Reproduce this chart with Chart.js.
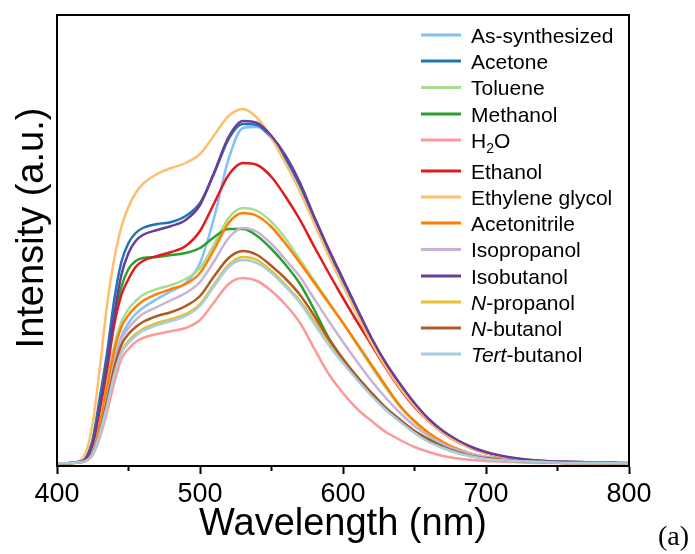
<!DOCTYPE html>
<html>
<head>
<meta charset="utf-8">
<script src="https://cdn.jsdelivr.net/npm/chart.js@4.4.1/dist/chart.umd.min.js"></script>
<style>
  html, body { margin: 0; padding: 0; background: #fff; }
  #wrap { width: 695px; height: 554px; }
</style>
</head>
<body>
<div id="wrap"><canvas id="chart" width="695" height="554"></canvas></div>
<script>
// Spectres (unités arbitraires)
const wavelengths = [400, 410, 415, 420, 425, 430, 435, 440, 445, 450, 455, 460, 470, 480, 490, 500, 510, 520, 530, 540, 550, 560, 570, 580, 590, 600, 610, 620, 630, 640, 650, 660, 670, 680, 690, 700, 720, 740, 760, 780, 800];

const asSynthesized = [1.5, 2, 3, 5, 14, 38, 70, 104, 128, 142, 151, 157, 166, 174, 182, 202, 248, 306, 337, 338, 327, 306, 279, 246, 214, 184, 154, 125, 100, 79, 61, 45, 33, 24, 17, 12, 6.5, 4, 3, 2.5, 1.5];
const acetone = [1.5, 2, 3, 7, 26, 68, 112, 165, 203, 222, 232, 237, 241, 243, 249, 262, 292, 326, 341, 340, 327, 306, 279, 245, 213, 183, 153, 124, 99, 78, 60, 44, 33, 24, 17, 12, 6.5, 4, 3, 2.5, 1.5];
const toluene = [1.5, 2, 3, 5, 16, 44, 82, 119, 143, 156, 164, 170, 176, 180, 186, 197, 221, 247, 257, 254, 243, 226, 205, 184, 163, 142, 120, 98, 77, 58, 43, 31, 22, 16, 11, 8, 5, 3, 2.5, 2, 1.5];
const methanol = [1.5, 2, 3, 6, 23, 62, 102, 146, 178, 196, 204, 207, 208, 210, 212, 217, 228, 236, 236, 229, 216, 200, 181, 155, 127, 106, 88, 72, 57, 45, 34, 26, 19, 14, 10, 7, 4, 3, 2, 2, 1.5];
const water = [1.5, 2, 2.5, 4, 10, 28, 53, 82, 106, 116, 123, 127, 131, 134, 137, 145, 163, 181, 187, 184, 174, 160, 142, 116, 91, 72, 56, 44, 33, 25, 18, 13, 9, 6.5, 5, 4, 3, 2, 2, 1.5, 1.5];
const ethanol = [1.5, 2, 3, 5, 20, 56, 95, 140, 170, 186, 198, 204, 209, 213, 219, 234, 262, 290, 302, 300, 288, 268, 245, 218, 192, 167, 143, 120, 97, 76, 58, 44, 32, 23, 17, 12, 6, 4, 3, 2.5, 1.5];
const ethyleneGlycol = [1.5, 2, 3.5, 12, 42, 98, 160, 206, 238, 258, 272, 281, 291, 297, 302, 311, 330, 349, 356, 347, 327, 301, 273, 241, 209, 179, 150, 122, 98, 77, 59, 44, 32, 23, 17, 12, 6.5, 4, 3, 2.5, 1.5];
const acetonitrile = [1.5, 2, 3, 5, 15, 41, 78, 114, 138, 150, 158, 164, 171, 176, 181, 192, 216, 242, 252, 249, 238, 221, 202, 182, 162, 142, 121, 100, 79, 59, 44, 32, 23, 16, 11, 8, 5, 3, 2.5, 2, 1.5];
const isopropanol = [1.5, 2, 3, 5, 13, 35, 66, 100, 125, 137, 145, 151, 158, 165, 172, 183, 204, 227, 237, 233, 221, 205, 188, 166, 144, 123, 103, 84, 67, 52, 39, 29, 21, 15, 11, 8, 5, 3, 2.5, 2, 1.5];
const isobutanol = [1.5, 2, 3, 6, 22, 60, 102, 150, 190, 212, 224, 230, 235, 239, 245, 260, 293, 328, 344, 342, 329, 309, 282, 248, 216, 186, 156, 127, 102, 81, 62, 46, 34, 25, 18, 13, 7, 4, 3, 2.5, 2];
const nPropanol = [1.5, 2, 2.5, 4, 11, 32, 60, 92, 114, 124, 131, 136, 142, 146, 151, 161, 181, 200, 208, 205, 194, 180, 164, 144, 122, 104, 86, 70, 56, 44, 33, 24, 17, 12, 9, 6, 4, 3, 2, 2, 1.5];
const nButanol = [1.5, 2, 2.5, 4, 12, 34, 64, 97, 120, 131, 138, 143, 149, 153, 159, 169, 189, 207, 214, 210, 199, 186, 170, 149, 126, 106, 88, 72, 57, 45, 34, 25, 18, 13, 9, 7, 4, 3, 2, 2, 1.5];
const tertButanol = [1.5, 2, 2.5, 4, 11, 32, 59, 90, 112, 122, 129, 134, 140, 144, 149, 159, 179, 198, 205, 202, 192, 178, 162, 141, 120, 102, 85, 69, 55, 43, 32, 23, 17, 12, 8.5, 6, 4, 3, 2, 2, 1.5];

const xTicks = [400, 500, 600, 700, 800];
const minorTicks = [450, 550, 650, 750];

// Légende : morceaux de texte (i = italique, sub = indice)
const legendLabels = [
  [{ t: "As-synthesized" }],
  [{ t: "Acetone" }],
  [{ t: "Toluene" }],
  [{ t: "Methanol" }],
  [{ t: "H" }, { t: "2", sub: true }, { t: "O" }],
  [{ t: "Ethanol" }],
  [{ t: "Ethylene glycol" }],
  [{ t: "Acetonitrile" }],
  [{ t: "Isopropanol" }],
  [{ t: "Isobutanol" }],
  [{ t: "N", i: true }, { t: "-propanol" }],
  [{ t: "N", i: true }, { t: "-butanol" }],
  [{ t: "Tert", i: true }, { t: "-butanol" }]
];

const series = [asSynthesized, acetone, toluene, methanol, water, ethanol, ethyleneGlycol, acetonitrile, isopropanol, isobutanol, nPropanol, nButanol, tertButanol];
const colors = ["#82c0f7", "#1f74b4", "#a8dc90", "#2ca02c", "#fb9a99", "#e31a1c", "#fdbf6f", "#ff7f00", "#cab2d6", "#6a3d9a", "#e6c02e", "#b15928", "#a6cee3"];

const FONT = "'Liberation Sans', Arial, sans-serif";
const legendRows = [35, 61, 87.5, 114, 140, 171, 197, 223, 249.5, 276, 302, 328, 354];

const legendPlugin = {
  id: "richLegend",
  afterDraw(chart) {
    const { ctx } = chart;
    ctx.save();
    legendLabels.forEach((parts, i) => {
      const y = legendRows[i];
      ctx.strokeStyle = colors[i];
      ctx.lineWidth = 3;
      ctx.beginPath();
      ctx.moveTo(421, y);
      ctx.lineTo(461, y);
      ctx.stroke();

      let x = 471;
      ctx.fillStyle = "#000";
      ctx.textBaseline = "alphabetic";
      ctx.textAlign = "left";
      parts.forEach((p) => {
        const size = p.sub ? 14 : 21;
        ctx.font = `${p.i ? "italic " : ""}${size}px ${FONT}`;
        ctx.fillText(p.t, x, y + 7.5 + (p.sub ? 5 : 0));
        x += ctx.measureText(p.t).width;
      });
    });
    ctx.restore();
  }
};

const framePlugin = {
  id: "frame",
  afterDatasetsDraw(chart) {
    const { ctx, chartArea: a, scales } = chart;
    ctx.save();
    ctx.strokeStyle = "#000";
    ctx.lineWidth = 2;
    ctx.strokeRect(a.left, a.top, a.right - a.left, a.bottom - a.top);
    ctx.beginPath();
    minorTicks.forEach((v) => {
      const px = scales.x.getPixelForValue(v);
      ctx.moveTo(px, a.bottom);
      ctx.lineTo(px, a.bottom + 5);
    });
    ctx.stroke();
    ctx.restore();
  },
  afterDraw(chart) {
    const { ctx } = chart;
    ctx.save();
    ctx.fillStyle = "#000";
    ctx.font = `38px ${FONT}`;
    ctx.textAlign = "center";
    ctx.textBaseline = "middle";
    ctx.translate(33, 228);
    ctx.rotate(-Math.PI / 2);
    ctx.fillText("Intensity (a.u.)", 0, 0);
    ctx.restore();

    ctx.save();
    ctx.fillStyle = "#000";
    ctx.font = "28px 'Liberation Serif', 'Times New Roman', serif";
    ctx.textAlign = "left";
    ctx.textBaseline = "alphabetic";
    ctx.fillText("(a)", 658, 545);
    ctx.restore();
  }
};

new Chart(document.getElementById("chart"), {
  type: "line",
  data: {
    datasets: series.map((values, i) => ({
      label: legendLabels[i].map((p) => p.t).join(""),
      data: wavelengths.map((w, k) => ({ x: w, y: values[k] })),
      borderColor: colors[i],
      borderWidth: 2.5,
      pointRadius: 0,
      cubicInterpolationMode: "monotone",
      fill: false,
      order: -i
    }))
  },
  options: {
    responsive: false,
    animation: false,
    devicePixelRatio: 1,
    layout: { padding: { top: 15, right: 66, bottom: 0, left: 0 } },
    plugins: {
      legend: { display: false },
      tooltip: { enabled: false }
    },
    scales: {
      x: {
        type: "linear",
        min: 400,
        max: 800,
        afterBuildTicks: (scale) => {
          scale.ticks = xTicks.map((v) => ({ value: v }));
        },
        ticks: {
          color: "#000",
          font: { family: FONT, size: 27 },
          padding: 4,
          maxRotation: 0
        },
        grid: {
          display: true,
          drawOnChartArea: false,
          drawTicks: true,
          tickLength: 8,
          tickWidth: 2,
          tickColor: "#000"
        },
        border: { display: true, color: "#000", width: 2 },
        title: {
          display: true,
          text: "Wavelength (nm)",
          color: "#000",
          font: { family: FONT, size: 38 },
          padding: { top: 0, bottom: 7 }
        },
        afterFit: (scale) => {
          scale.height = 88;
        }
      },
      y: {
        min: -1,
        max: 450,
        ticks: { display: false },
        grid: { display: false },
        border: { display: true, color: "#000", width: 2 },
        afterFit: (scale) => {
          scale.width = 57;
        }
      }
    }
  },
  plugins: [framePlugin, legendPlugin]
});
</script>
</body>
</html>
